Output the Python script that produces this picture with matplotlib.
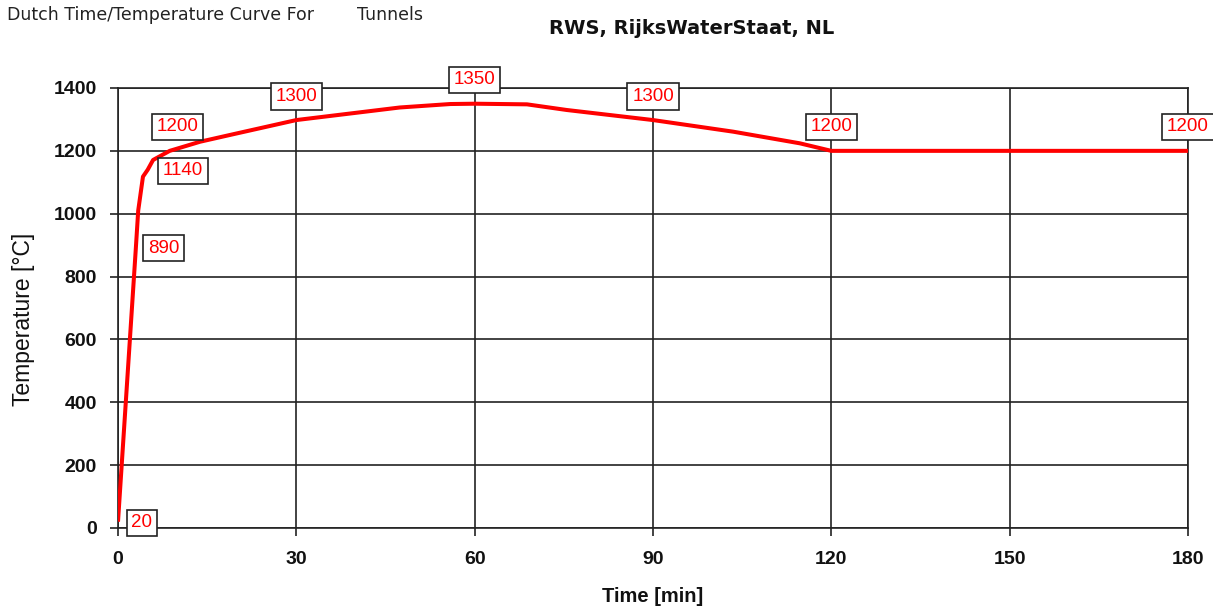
import matplotlib
matplotlib.use("Agg")
import matplotlib.pyplot as plt

plt.rcParams['font.family'] = ['Liberation Sans', 'DejaVu Sans']

# Labelled data points (RWS curve)
label_time = [0, 3, 5, 10, 30, 60, 90, 120, 180]
label_temp = [20, 890, 1140, 1200, 1300, 1350, 1300, 1200, 1200]

# Curve (smoothed line)
curve_time = [0, 3, 3.4, 4.2, 5, 5.9, 8.7, 13.8, 19.4, 30, 47.4, 55.9, 60, 68.8, 75.5, 90, 103.5, 114.7, 120, 180]
curve_temp = [20, 890, 1010, 1118, 1140, 1171, 1200, 1229, 1253, 1298, 1338, 1349, 1350, 1348, 1330, 1298, 1261, 1224, 1200, 1200]

x_ticks = [0, 30, 60, 90, 120, 150, 180]
y_ticks = [0, 200, 400, 600, 800, 1000, 1200, 1400]

# label offsets in pixels (dx, dy)
label_offsets = [(24, -1), (28, 0), (35, -1), (0, 24), (0, 23), (0, 24), (0, 23), (0, 24), (0, 24)]

W, H = 1213, 607
fig = plt.figure(figsize=(W/100, H/100), dpi=100)
ax = fig.add_axes([118/W, 1-528/H, (1188-118)/W, (528-88)/H])

ax.plot(curve_time, curve_temp, color='#ff0000', lw=2.9, zorder=3,
        solid_joinstyle='round', solid_capstyle='butt')

ax.set_xlim(0, 180)
ax.set_ylim(0, 1400)
ax.set_xticks(x_ticks)
ax.set_yticks(y_ticks)
ax.grid(True, color='#222222', lw=1.2)
ax.set_axisbelow(True)
for s in ax.spines.values():
    s.set_color('#222222')
    s.set_linewidth(1.2)
ax.tick_params(axis='both', direction='out', length=5.8, width=1.2, color='#222222',
               labelsize=14, labelcolor='#111111')
ax.tick_params(axis='y', pad=9.4)
ax.tick_params(axis='x', pad=11)
for lab in ax.get_xticklabels() + ax.get_yticklabels():
    lab.set_fontweight('bold')

ax.set_xlabel('Time [min]', fontsize=14.5, fontweight='bold', color='#111111')
ax.xaxis.label.set_va('center')
ax.xaxis.set_label_coords(0.5, (528-597)/440)
ax.set_ylabel('Temperature [°C]', fontsize=16.5, color='#111111')
ax.yaxis.label.set_va('center')
ax.yaxis.set_label_coords((24-118)/1070, (528-319)/440)

for t, v, (dx, dy) in zip(label_time, label_temp, label_offsets):
    ax.annotate(str(v), xy=(t, v), xytext=(dx*0.72, dy*0.72), textcoords='offset points',
                ha='center', va='center', fontsize=13.5, color='#ff0000', zorder=5,
                annotation_clip=False,
                bbox=dict(boxstyle='square,pad=0.25', fc='white', ec='#222222', lw=1.2))

fig.text(7/W, 1-20/H, 'Dutch Time/Temperature Curve For', fontsize=12.5,
         family='DejaVu Sans', color='#222222', ha='left', va='baseline')
fig.text(357/W, 1-20/H, 'Tunnels', fontsize=12.5,
         family='DejaVu Sans', color='#222222', ha='left', va='baseline')
fig.text(692/W, 1-34/H, 'RWS, RijksWaterStaat, NL', fontsize=14, fontweight='bold',
         family='DejaVu Sans', color='#111111', ha='center', va='baseline')

fig.savefig('out.png', dpi=100)
